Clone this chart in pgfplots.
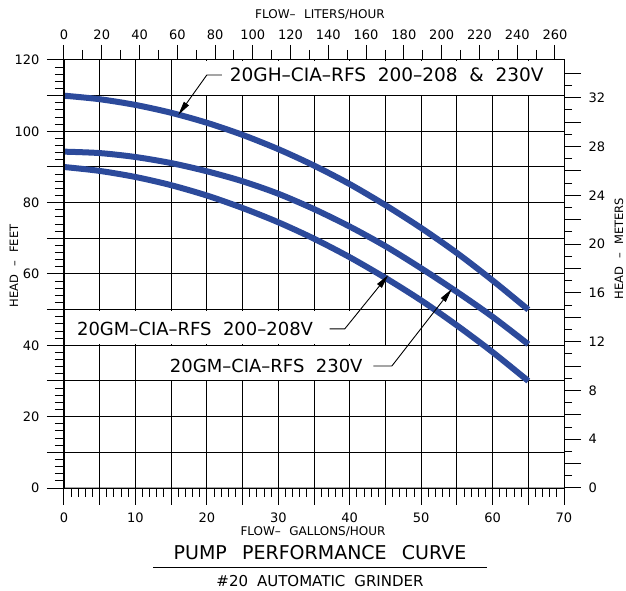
\documentclass[border=0pt]{standalone}
\usepackage{pgfplots}
\pgfplotsset{compat=1.18}
\usepackage{fontspec}
\setmainfont{DejaVu Sans}
\usetikzlibrary{arrows.meta}
\definecolor{curveblue}{RGB}{44,74,155}

\pgfplotsset{
  pumpbase/.style={
    scale only axis, width=500pt, height=428pt,
    at={(0,0)}, anchor=south west,
    axis line style={black, line width=1pt},
    tick align=outside,
    major tick length=17pt, minor tick length=9pt,
    every tick/.style={black, line width=1pt},
    minor tick style={black, line width=1pt},
    ticklabel style={font=\fontsize{13}{13}\selectfont},
    /pgf/number format/assume math mode=true,
  },
}

\begin{document}
\begin{tikzpicture}
\useasboundingbox (-64pt,-103pt) rectangle (562pt,488pt);

% main axis: GPM vs feet
\begin{axis}[pumpbase,
  xmin=0, xmax=70, ymin=0, ymax=120,
  xtick={0,5,...,70}, xticklabels={0,,10,,20,,30,,40,,50,,60,,70},
  ytick={0,10,...,120}, yticklabels={0,,20,,40,,60,,80,,100,,120},
  minor x tick num=4, minor y tick num=4,
  xtick pos=left, ytick pos=left,
  grid=major, major grid style={black, line width=1pt},
  xticklabel style={yshift=-4pt},
  yticklabel style={xshift=-4pt},
]
% label boxes over the grid
\fill[white] (axis cs:18,110.3) rectangle (axis cs:70,119.8);
\fill[white] (axis cs:0.1,40.3) rectangle (axis cs:44,49.7);
\fill[white] (axis cs:12,30.3) rectangle (axis cs:47.5,39.7);

% 20GH-CIA-RFS 200-208 & 230V
\addplot[curveblue, line width=6pt, smooth] coordinates {
  (0,110) (5,109.0) (10,107.4) (15,105.2) (20,102.4) (25,99.0) (30,95.0)
  (35,90.4) (40,85.2) (45,79.3) (50,72.9) (55,65.9) (60,58.2) (65,50)};
% 20GM-CIA-RFS 230V
\addplot[curveblue, line width=6pt, smooth] coordinates {
  (0,94.3) (5,93.9) (10,92.8) (15,91.1) (20,88.8) (25,86.0) (30,82.5)
  (35,78.2) (40,73.3) (45,67.8) (50,61.6) (55,55.0) (60,48.0) (65,40.3)};
% 20GM-CIA-RFS 200-208V
\addplot[curveblue, line width=6pt, smooth] coordinates {
  (0,90) (5,88.9) (10,87.2) (15,84.9) (20,82.0) (25,78.5) (30,74.5)
  (35,69.9) (40,64.7) (45,58.9) (50,52.6) (55,45.6) (60,38.1) (65,30)};

% leaders
\draw[line width=0.9pt, -{Triangle[length=14pt,width=6pt]}]
  (axis cs:22.1,115.8) -- (axis cs:20.0,115.8) -- (axis cs:16.0,104.6);
\draw[line width=0.9pt, -{Triangle[length=14pt,width=6pt]}]
  (axis cs:37.2,44.6) -- (axis cs:39.3,44.6) -- (axis cs:45.4,59.7);
\draw[line width=0.9pt, -{Triangle[length=14pt,width=6pt]}]
  (axis cs:43.3,34.2) -- (axis cs:45.9,34.2) -- (axis cs:54.3,55.8);

\node[anchor=west, inner sep=0pt, font=\fontsize{18.5}{18.5}\selectfont]
  at (axis cs:23.2,115.8) {20GH--CIA--RFS\ \ 200--208\ \ \&\ \ 230V};
\node[anchor=west, inner sep=0pt, font=\fontsize{18}{18}\selectfont]
  at (axis cs:1.8,44.6) {20GM--CIA--RFS\ \ 200--208V};
\node[anchor=west, inner sep=0pt, font=\fontsize{18}{18}\selectfont]
  at (axis cs:14.8,34.2) {20GM--CIA--RFS\ \ 230V};
\end{axis}

% top axis: liters/hour
\begin{axis}[pumpbase,
  xmin=0, xmax=264.8, ymin=0, ymax=1,
  hide y axis,
  xtick={0,20,...,260}, minor x tick num=1,
  xtick pos=right,
  major tick length=15pt, minor tick length=10pt,
  xticklabel style={yshift=2pt},
]
\end{axis}

% right axis: meters
\begin{axis}[pumpbase,
  xmin=0, xmax=1, ymin=0, ymax=35.1,
  hide x axis,
  ytick={0,2,...,34}, yticklabels={0,,4,,8,,12,,16,,20,,24,,28,,32,},
  minor y tick num=1,
  ytick pos=right,
  minor tick length=8pt,
  yticklabel style={xshift=4pt},
]
\end{axis}

% axis titles and chart title
\node[inner sep=1pt, font=\fontsize{12}{12}\selectfont] at (256pt,473pt) {FLOW--\hspace{0.7em}LITERS/HOUR};
\node[inner sep=1pt, font=\fontsize{12}{12}\selectfont] at (249pt,-44pt) {FLOW--\hspace{0.7em}GALLONS/HOUR};
\node[inner sep=1pt, font=\fontsize{11.5}{11.5}\selectfont, rotate=90] at (-50pt,222pt) {HEAD\hspace{0.7em}--\hspace{0.7em}FEET};
\node[inner sep=1pt, font=\fontsize{11.5}{11.5}\selectfont, rotate=90] at (555pt,239.5pt) {HEAD\hspace{0.7em}--\hspace{0.7em}METERS};
\node[font=\fontsize{19}{19}\selectfont] at (256pt,-65pt) {PUMP\hspace{0.8em}PERFORMANCE\hspace{0.8em}CURVE};
\draw[line width=1pt] (89pt,-79pt) -- (423pt,-79pt);
\node[font=\fontsize{15}{15}\selectfont] at (256pt,-93pt) {\#20\hspace{0.6em}AUTOMATIC\hspace{0.6em}GRINDER};
\end{tikzpicture}
\end{document}
